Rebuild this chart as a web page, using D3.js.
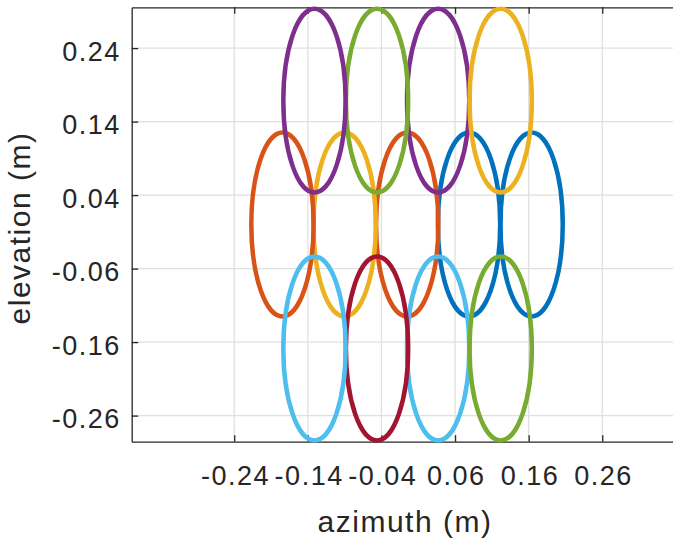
<!DOCTYPE html>
<html>
<head>
<meta charset="utf-8">
<script src="https://cdn.jsdelivr.net/npm/d3@7"></script>
<style>
    body { margin: 0; background: white; }
    svg text { font-family: "Liberation Sans", Arial, Helvetica, sans-serif; fill: #262626; }
</style>
</head>
<body>
<div id="chart"></div>
<script>

// beam footprints, in drawing order (later ones sit on top)
var beamAz   = [0.079, -0.005, -0.090, 0.037, -0.046, 0.037, -0.046, 0.164, -0.1745, 0.122, -0.131, 0.122, -0.131];
var beamEl   = [0, 0, 0, 0.1685, 0.1685, -0.1687, -0.1687, 0, 0, 0.1685, 0.1685, -0.1687, -0.1687];
var beamColor = ["#0072BD", "#D95319", "#EDB120", "#7E2F8E", "#77AC30", "#4DBEEE", "#A2142F",
                 "#0072BD", "#D95319", "#EDB120", "#7E2F8E", "#77AC30", "#4DBEEE"];
var beamHalfAz = 0.0423;
var beamHalfEl = 0.125;

var xTicks = [-0.24, -0.14, -0.04, 0.06, 0.16, 0.26];
var yTicks = [-0.26, -0.16, -0.06, 0.04, 0.14, 0.24];

var width = 673, height = 542;
// note: "top" is taken by window.top, so prefix these
var pLeft = 131.7, pRight = 678.6, pTop = 7.3, pBottom = 441.7;

var svg = d3.select("#chart").append("svg")
    .attr("width", width)
    .attr("height", height)
    .style("display", "block");

var x = d3.scaleLinear().domain([-0.3793, 0.3637]).range([pLeft, pRight]);
var y = d3.scaleLinear().domain([-0.2955, 0.2955]).range([pBottom, pTop]);

// grid
svg.append("g").selectAll("line")
    .data(xTicks)
    .enter().append("line")
    .attr("x1", function (d) { return x(d); })
    .attr("x2", function (d) { return x(d); })
    .attr("y1", pTop).attr("y2", pBottom)
    .attr("stroke", "#e0e0e0").attr("stroke-width", 1.3);

svg.append("g").selectAll("line")
    .data(yTicks)
    .enter().append("line")
    .attr("y1", function (d) { return y(d); })
    .attr("y2", function (d) { return y(d); })
    .attr("x1", pLeft).attr("x2", pRight)
    .attr("stroke", "#e0e0e0").attr("stroke-width", 1.3);

// axes, matlab style: ticks pointing inward, box on top too
var fmt = function (d) { return d3.format(".2f")(d).replace("−", "-"); };

var xAxis = svg.append("g")
    .attr("transform", "translate(0," + pBottom + ")")
    .call(d3.axisBottom(x).tickValues(xTicks).tickSizeInner(-6.5).tickSizeOuter(0).tickFormat(fmt));
var xAxisTop = svg.append("g")
    .attr("transform", "translate(0," + pTop + ")")
    .call(d3.axisTop(x).tickValues(xTicks).tickSizeInner(-6.5).tickSizeOuter(0).tickFormat(""));
var yAxis = svg.append("g")
    .attr("transform", "translate(" + pLeft + ",0)")
    .call(d3.axisLeft(y).tickValues(yTicks).tickSizeInner(-6.5).tickSizeOuter(0).tickFormat(fmt));

[xAxis, xAxisTop, yAxis].forEach(function (g) {
    g.select(".domain").attr("stroke", "#262626").attr("stroke-width", 1.3);
    g.selectAll(".tick line").attr("stroke", "#262626").attr("stroke-width", 1.3);
    g.selectAll(".tick text")
        .attr("fill", "#262626")
        .style("font-family", "'Liberation Sans', Arial, sans-serif")
        .style("font-size", "27px")
        .style("letter-spacing", "1.5px");
});

xAxis.selectAll(".tick text").attr("y", 24).attr("dy", "0.71em").attr("x", 0.8);
yAxis.selectAll(".tick text").attr("x", -11).attr("dy", "0.45em");

// footprints
svg.append("g").selectAll("ellipse")
    .data(beamAz)
    .enter().append("ellipse")
    .attr("cx", function (d) { return x(d); })
    .attr("cy", function (d, i) { return y(beamEl[i]); })
    .attr("rx", x(beamHalfAz) - x(0))
    .attr("ry", y(0) - y(beamHalfEl))
    .attr("fill", "none")
    .attr("stroke", function (d, i) { return beamColor[i]; })
    .attr("stroke-width", 4.5);

// labels
svg.append("text")
    .attr("x", 405)
    .attr("y", 532)
    .attr("text-anchor", "middle")
    .style("font-size", "30px")
    .style("letter-spacing", "1.5px")
    .text("azimuth (m)");

svg.append("text")
    .attr("transform", "translate(30,228) rotate(-90)")
    .attr("text-anchor", "middle")
    .style("font-size", "30px")
    .style("letter-spacing", "1.5px")
    .text("elevation (m)");

</script>
</body>
</html>
